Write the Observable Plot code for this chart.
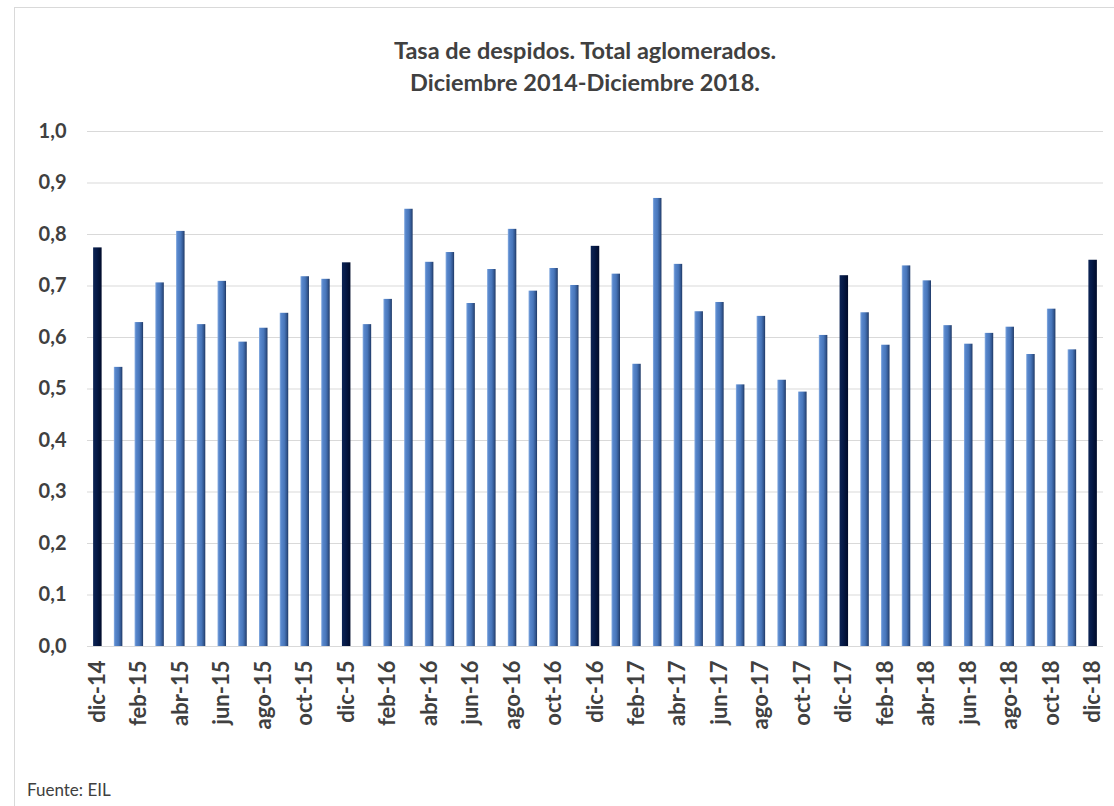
<!DOCTYPE html>
<html>
<head>
<meta charset="utf-8">
<script src="https://cdn.jsdelivr.net/npm/d3@7"></script>
<script src="https://cdn.jsdelivr.net/npm/@observablehq/plot@0.6"></script>
<style>
  html, body { margin: 0; padding: 0; background: #fff; }
  body { width: 1114px; height: 806px; position: relative; overflow: hidden; font-family: Lato, "Open Sans", sans-serif; }
  #frame { position: absolute; left: 14px; top: 7px; width: 1120px; height: 820px; border: 1.5px solid #d9d9d9; box-sizing: border-box; }
  #title { position: absolute; left: 335px; width: 500px; top: 34px; text-align: center; font-weight: 700; font-size: 23.5px; line-height: 32px; color: #404040; white-space: nowrap; }
  #chart { position: absolute; left: 0; top: 0; }
  #source { position: absolute; left: 27px; top: 779px; font-size: 17px; color: #404040; }
</style>
</head>
<body>
<div id="frame"></div>
<div id="chart"></div>
<div id="title">Tasa de despidos. Total aglomerados.<br>Diciembre 2014-Diciembre 2018.</div>
<div id="source">Fuente: EIL</div>
<script>
const months = [
  "dic-14","ene-15","feb-15","mar-15","abr-15","may-15","jun-15","jul-15","ago-15","sep-15","oct-15","nov-15",
  "dic-15","ene-16","feb-16","mar-16","abr-16","may-16","jun-16","jul-16","ago-16","sep-16","oct-16","nov-16",
  "dic-16","ene-17","feb-17","mar-17","abr-17","may-17","jun-17","jul-17","ago-17","sep-17","oct-17","nov-17",
  "dic-17","ene-18","feb-18","mar-18","abr-18","may-18","jun-18","jul-18","ago-18","sep-18","oct-18","nov-18",
  "dic-18"
];
const rates = [
  0.774, 0.542, 0.629, 0.706, 0.806, 0.625, 0.709, 0.591, 0.618, 0.647, 0.718, 0.713,
  0.745, 0.625, 0.674, 0.849, 0.746, 0.765, 0.666, 0.732, 0.810, 0.690, 0.734, 0.701,
  0.777, 0.723, 0.548, 0.870, 0.742, 0.650, 0.668, 0.508, 0.641, 0.517, 0.494, 0.604,
  0.720, 0.648, 0.585, 0.739, 0.710, 0.623, 0.587, 0.608, 0.620, 0.567, 0.655, 0.576,
  0.750
];
const shownTicks = [
  "dic-14","feb-15","abr-15","jun-15","ago-15","oct-15","dic-15","feb-16","abr-16","jun-16","ago-16","oct-16",
  "dic-16","feb-17","abr-17","jun-17","ago-17","oct-17","dic-17","feb-18","abr-18","jun-18","ago-18","oct-18","dic-18"
];
const yTicks = [0, 0.1, 0.2, 0.3, 0.4, 0.5, 0.6, 0.7, 0.8, 0.9, 1.0];

const data = months.map((m, i) => ({month: m, rate: rates[i], dec: m.startsWith("dic")}));

const defs = () => {
  const d = d3.create("svg:defs");
  const g1 = d.append("linearGradient").attr("id", "gBlue").attr("x1", 0).attr("x2", 1).attr("y1", 0).attr("y2", 0);
  [["0%", "#8cb0e2"], ["18%", "#5887cc"], ["55%", "#4876ba"], ["82%", "#32568f"], ["100%", "#1e3763"]]
    .forEach(([o, c]) => g1.append("stop").attr("offset", o).attr("stop-color", c));
  const g2 = d.append("linearGradient").attr("id", "gDark").attr("x1", 0).attr("x2", 1).attr("y1", 0).attr("y2", 0);
  [["0%", "#0d2454"], ["40%", "#061a48"], ["100%", "#000b2a"]]
    .forEach(([o, c]) => g2.append("stop").attr("offset", o).attr("stop-color", c));
  return d.node();
};

const chart = Plot.plot({
  width: 1114,
  height: 806,
  marginTop: 131,
  marginBottom: 160,
  marginLeft: 87,
  marginRight: 11,
  style: {fontFamily: "Lato, 'Open Sans', sans-serif", color: "#404040", background: "transparent", overflow: "visible"},
  x: {domain: months, paddingInner: 0.59, paddingOuter: 0.295, label: null},
  y: {domain: [0, 1], label: null},
  marks: [
    defs,
    Plot.gridY(yTicks, {stroke: "#d9d9d9", strokeOpacity: 1, strokeWidth: 1}),
    Plot.barY(data.filter(d => !d.dec), {x: "month", y: "rate", fill: "url(#gBlue)"}),
    Plot.barY(data.filter(d => d.dec), {x: "month", y: "rate", fill: "url(#gDark)"}),
    Plot.axisY(yTicks, {tickSize: 0, tickPadding: 21, fontSize: 20, fontWeight: 700, fill: "#404040",
      tickFormat: d => d.toFixed(1).replace(".", ",")}),
    Plot.axisX(shownTicks, {tickSize: 0, tickPadding: 14, tickRotate: -90, fontSize: 22, fontWeight: 700, fill: "#404040"})
  ]
});
document.getElementById("chart").appendChild(chart);
</script>
</body>
</html>
